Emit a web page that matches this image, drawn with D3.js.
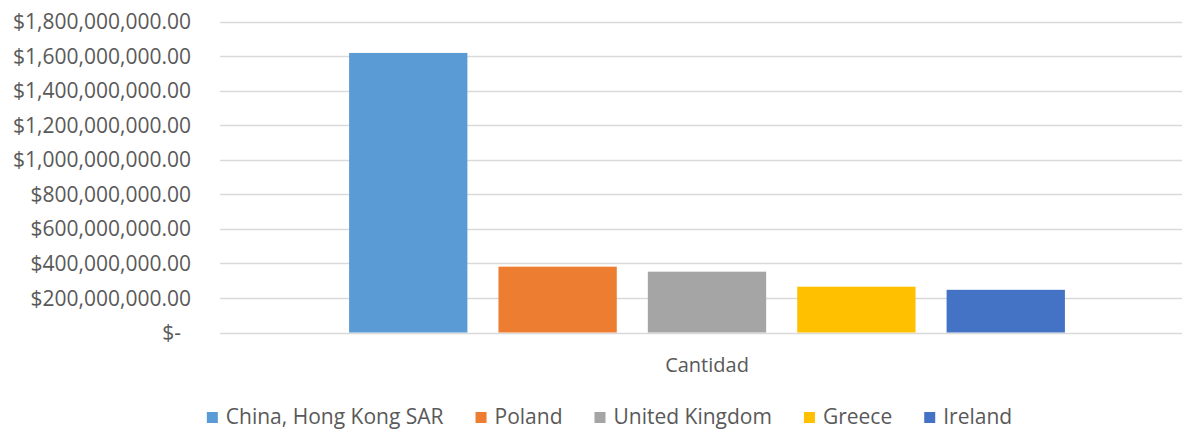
<!DOCTYPE html>
<html>
<head>
<meta charset="utf-8">
<script src="https://cdn.jsdelivr.net/npm/d3@7"></script>
<style>
  body { margin: 0; background: #fff; }
  text { font-family: "Open Sans", sans-serif; fill: #595959; }
</style>
</head>
<body>
<div id="chart"></div>
<script>
// data
const categories = ["Cantidad"];
const seriesNames = ["China, Hong Kong SAR", "Poland", "United Kingdom", "Greece", "Ireland"];
const seriesValues = [1618000000, 381000000, 352000000, 265000000, 247000000];
const yTicks = [0, 200000000, 400000000, 600000000, 800000000, 1000000000,
  1200000000, 1400000000, 1600000000, 1800000000];
const colors = ["#5B9BD5", "#ED7D31", "#A5A5A5", "#FFC000", "#4472C4"];

const width = 1182, height = 429;
const plot = { left: 220, right: 1194, top: 21.5, bottom: 332.5 };

const svg = d3.select("#chart")
  .append("svg")
  .attr("width", width)
  .attr("height", height);

const y = d3.scaleLinear()
  .domain([0, 1800000000])
  .range([plot.bottom, plot.top]);

// outer band for the single category, inner band for each series
const x0 = d3.scaleBand()
  .domain(categories)
  .range([plot.left, plot.right])
  .paddingInner(0)
  .paddingOuter(0.126);

const x1 = d3.scaleBand()
  .domain(seriesNames)
  .range([0, x0.bandwidth()])
  .padding(0.208);

// gridlines
svg.append("g")
  .selectAll("line")
  .data(yTicks)
  .enter()
  .append("line")
  .attr("x1", plot.left)
  .attr("x2", width)
  .attr("y1", (d) => Math.round(y(d)) + 0.5)
  .attr("y2", (d) => Math.round(y(d)) + 0.5)
  .attr("stroke", "#D9D9D9")
  .attr("stroke-width", 1.3);

// y axis labels
const fmt = d3.format("$,.2f");
const yAxis = d3.axisLeft(y)
  .tickValues(yTicks)
  .tickSize(0)
  .tickPadding(0)
  .tickFormat((d) => (d === 0 ? "$-" : fmt(d)));

const yg = svg.append("g")
  .attr("transform", "translate(191,0)")
  .call(yAxis);
yg.select(".domain").remove();
yg.selectAll("text")
  .attr("font-family", "Open Sans")
  .attr("font-size", 21)
  .attr("fill", "#595959")
  .attr("dy", "0.34em");
// "$-" sits a little to the left in the reference
yg.selectAll("text").filter((d) => d === 0).attr("x", -10);

// bars
const data = seriesNames.map((name, i) => ({ name, value: seriesValues[i], color: colors[i] }));

svg.append("g")
  .selectAll("g")
  .data(categories)
  .enter()
  .append("g")
  .attr("transform", (d) => `translate(${x0(d)},0)`)
  .selectAll("rect")
  .data(data)
  .enter()
  .append("rect")
  .attr("x", (d) => x1(d.name))
  .attr("y", (d) => y(d.value))
  .attr("width", x1.bandwidth())
  .attr("height", (d) => y(0) - y(d.value))
  .attr("fill", (d) => d.color);

// category label
svg.append("g")
  .selectAll("text")
  .data(categories)
  .enter()
  .append("text")
  .attr("x", (d) => x0(d) + x0.bandwidth() / 2)
  .attr("y", 372)
  .attr("text-anchor", "middle")
  .attr("font-size", 20)
  .text((d) => d);

// legend, centered
const legend = svg.append("g");
const items = legend.selectAll("g")
  .data(data)
  .enter()
  .append("g");

items.append("rect")
  .attr("width", 11)
  .attr("height", 11)
  .attr("y", 412)
  .attr("fill", (d) => d.color);

items.append("text")
  .attr("x", 19)
  .attr("y", 424)
  .attr("font-size", 21)
  .text((d) => d.name);

let cx = 0;
items.each(function () {
  const g = d3.select(this);
  g.attr("transform", `translate(${cx},0)`);
  cx += 19 + g.select("text").node().getComputedTextLength() + 32;
});
const legendWidth = cx - 32;
legend.attr("transform", `translate(${609.5 - legendWidth / 2},0)`);
</script>
</body>
</html>
